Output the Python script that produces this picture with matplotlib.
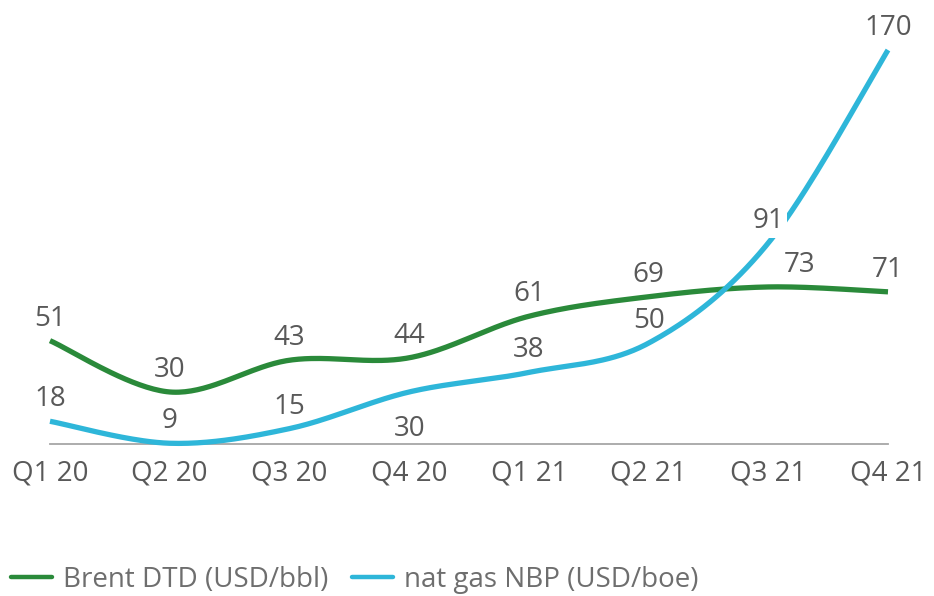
import numpy as np
import matplotlib
matplotlib.use("Agg")
import matplotlib.pyplot as plt

# données
quarters = ["Q1 20", "Q2 20", "Q3 20", "Q4 20", "Q1 21", "Q2 21", "Q3 21", "Q4 21"]
brent = [51, 30, 43, 44, 61, 69, 73, 71]
gas_nbp = [18, 9, 15, 30, 38, 50, 91, 170]

green = "#2a8a3a"
cyan = "#2eb6d9"
grey_txt = "#595959"

plt.rcParams["font.family"] = ["Open Sans", "DejaVu Sans"]


# courbe lissée type Excel (Catmull-Rom), uniquement pour le tracé
def smooth(xs, ys, n=40):
    xs = np.asarray(xs, float)
    ys = np.asarray(ys, float)
    px = np.concatenate([[xs[0]], xs, [xs[-1]]])
    py = np.concatenate([[ys[0]], ys, [ys[-1]]])
    out_x, out_y = [], []
    t = np.linspace(0, 1, n)
    for i in range(1, len(px) - 2):
        p0 = np.array([px[i], py[i]])
        p3 = np.array([px[i + 1], py[i + 1]])
        p1 = p0 + (np.array([px[i + 1], py[i + 1]]) - np.array([px[i - 1], py[i - 1]])) / 6
        p2 = p3 - (np.array([px[i + 2], py[i + 2]]) - np.array([px[i], py[i]])) / 6
        b = ((1 - t) ** 3)[:, None] * p0 + (3 * (1 - t) ** 2 * t)[:, None] * p1 \
            + (3 * (1 - t) * t ** 2)[:, None] * p2 + (t ** 3)[:, None] * p3
        out_x.extend(b[:, 0])
        out_y.extend(b[:, 1])
    return out_x, out_y


fig = plt.figure(figsize=(9.34, 5.96), dpi=100)
W, H = 934, 596
ax = fig.add_axes([50 / W, (H - 444) / H, (888 - 50) / W, (444 - 30) / H])

x = np.arange(len(quarters))
bx, by = smooth(x, brent)
gx, gy = smooth(x, gas_nbp)
ax.plot(bx, by, color=green, lw=3.8, solid_capstyle="butt", clip_on=False,
        label="Brent DTD (USD/bbl)", zorder=3)
ax.plot(gx, gy, color=cyan, lw=3.8, solid_capstyle="butt", clip_on=False,
        label="nat gas NBP (USD/boe)", zorder=3)

ax.set_xlim(0, len(quarters) - 1)
ax.set_ylim(8.7, 178.2)

for s in ["top", "right", "left"]:
    ax.spines[s].set_visible(False)
ax.spines["bottom"].set_color("#a6a6a6")
ax.spines["bottom"].set_linewidth(1.3)
ax.set_yticks([])
ax.set_xticks(x)
ax.set_xticklabels(quarters, fontsize=20, color=grey_txt)
ax.tick_params(axis="x", length=0, pad=11)

# étiquettes de valeurs
lab_kw = dict(textcoords="offset pixels", ha="center", va="center",
              fontsize=20, color=grey_txt, zorder=5, annotation_clip=False)
for i, v in enumerate(brent):
    dx = 31 if i == 6 else 0
    ax.annotate(str(v), (i, v), xytext=(dx, 22), **lab_kw)
for i, v in enumerate(gas_nbp):
    dy = -37 if i == 3 else 22
    if i == 6:
        ax.annotate(str(v), (i, v), xytext=(0, dy),
                    bbox=dict(boxstyle="square,pad=0.1", fc="white", ec="none"), **lab_kw)
    else:
        ax.annotate(str(v), (i, v), xytext=(0, dy), **lab_kw)

leg = fig.legend(loc="center left", bbox_to_anchor=(11 / W, (H - 580) / H), ncol=2,
                 frameon=False, fontsize=20, labelcolor="#6e6e6e", handlelength=1.47,
                 handletextpad=0.4, columnspacing=0.86, borderaxespad=0, borderpad=0)
for h in leg.get_lines():
    h.set_linewidth(3.2)
    h.set_solid_capstyle("round")

fig.savefig("out.png", dpi=100)
